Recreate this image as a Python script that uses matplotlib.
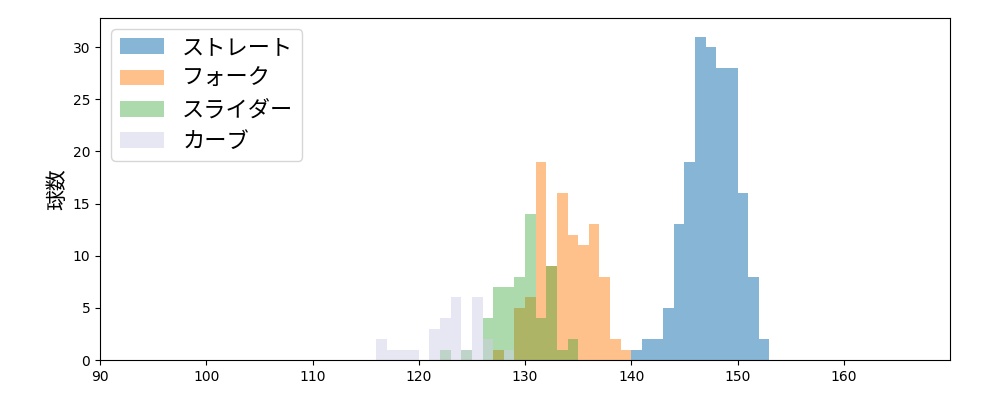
import numpy as np
import matplotlib
matplotlib.use("Agg")
import matplotlib.pyplot as plt

plt.rcParams['font.family'] = ['DejaVu Sans', 'Noto Sans CJK JP']

# bin start (km/h) -> count, 1 km/h bins
straight_bins = [140, 141, 142, 143, 144, 145, 146, 147, 148, 149, 150, 151, 152]
straight_counts = [1, 2, 2, 5, 13, 19, 31, 30, 28, 28, 16, 8, 2]

fork_bins = [127, 128, 129, 130, 131, 132, 133, 134, 135, 136, 137, 138, 139]
fork_counts = [1, 0, 5, 6, 19, 9, 16, 12, 11, 13, 8, 2, 1]

slider_bins = [122, 123, 124, 125, 126, 127, 128, 129, 130, 131, 132, 133, 134]
slider_counts = [1, 0, 1, 0, 4, 7, 7, 8, 14, 4, 9, 1, 2]

curve_bins = [116, 117, 118, 119, 120, 121, 122, 123, 124, 125, 126, 127, 128]
curve_counts = [2, 1, 1, 1, 0, 3, 4, 6, 1, 6, 2, 0, 1]

series = [
    ('ストレート', straight_bins, straight_counts, '#1f77b4', 0.54),
    ('フォーク', fork_bins, fork_counts, '#ff7f0e', 0.48),
    ('スライダー', slider_bins, slider_counts, '#2ca02c', 0.39),
    ('カーブ', curve_bins, curve_counts, '#cfd0e6', 0.5),
]

fig, ax = plt.subplots(figsize=(10, 4), dpi=100)
for name, bins, counts, color, alpha in series:
    edges = np.append(bins, bins[-1] + 1)
    centers = np.array(bins) + 0.5
    ax.hist(centers, bins=edges, weights=counts, color=color, alpha=alpha, label=name)

ax.set_xlim(90, 170)
ax.set_ylim(0, 32.8)
ax.set_xticks(range(90, 170, 10))
ax.set_ylabel('球数', fontsize=15)
ax.legend(loc='upper left', fontsize=16)
fig.subplots_adjust(left=0.1, right=0.95, top=0.955, bottom=0.1)
fig.savefig('out.png')
